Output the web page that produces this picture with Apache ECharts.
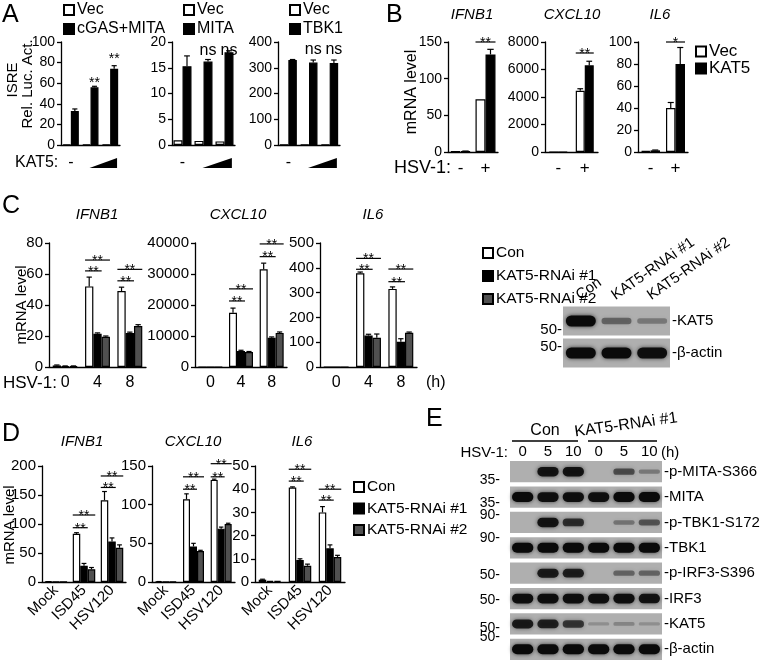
<!DOCTYPE html>
<html>
<head>
<meta charset="utf-8">
<script src="https://cdn.jsdelivr.net/npm/echarts@6/dist/echarts.min.js"></script>
<style>
html, body { margin: 0; padding: 0; background: #fff; }
#main { width: 762px; height: 661px; }
</style>
</head>
<body>
<div id="main"></div>
<script>
// ---- data ----
// A: ISRE reporter
const aCats = ['-', '', ''];
const aVec1 = [0.5, 0.5, 0.5];
const aMix = [33, 56, 74];
const aMixErr = [2, 1, 3];
const aSig1 = ['', '**', '**'];
const aSigY1 = [0, 63, 86.4];
const aVec2 = [0.9, 0.8, 0.7];
const aMita = [15.3, 16.2, 18];
const aMitaErr = [2, 0.4, 0.3];
const aSig2 = ['', 'ns', 'ns'];
const aSigY2 = [0, 18.4, 18.4];
const aVec3 = [1, 1, 1];
const aTbk1 = [330, 320, 318];
const aTbk1Err = [2, 10, 12];
const aSig3 = ['', 'ns', 'ns'];
const aSigY3 = [0, 372, 372];

// B: overexpression, HSV-1
const genes = ['IFNB1', 'CXCL10', 'IL6'];
const bCats = ['-', '+'];
const bVec = [[1, 72], [0, 4450], [1, 40]];
const bVecErr = [[0, 0], [0, 150], [0, 5]];
const bKat5 = [[1, 133], [0, 6300], [1.5, 80]];
const bKat5Err = [[0.3, 7], [0, 300], [0.3, 15]];
const bSig = ['**', '**', '*'];
const bSigY = [150, 7200, 100];

// C: knockdown, HSV-1 time course
const cCats = ['0', '4', '8'];
const cCon = [[1, 52, 49], [0, 17500, 31500], [0, 378, 315]];
const cConErr = [[0.3, 6, 2.5], [0, 1500, 2000], [0, 5, 8]];
const cK1 = [[0.5, 21.5, 22], [0, 5200, 9400], [0, 127, 102]];
const cK1Err = [[0.2, 0.5, 0.5], [0, 200, 300], [0, 5, 12]];
const cK2 = [[0.5, 19.5, 26.5], [0, 4800, 11000], [0, 118, 138]];
const cK2Err = [[0.2, 0.5, 0.8], [0, 200, 300], [0, 15, 3]];
// [group, last bar of bracket, y]
const cBrackets = [
  [[1, 1, 62], [1, 2, 69], [2, 1, 55.6], [2, 2, 63]],
  [[1, 1, 21300], [1, 2, 25200], [2, 1, 35600], [2, 2, 39700]],
  [[1, 1, 394], [1, 2, 438], [2, 1, 344], [2, 2, 395]]
];

// D: knockdown, DNA stimuli
const dCats = ['Mock', 'ISD45', 'HSV120'];
const dCon = [[0.5, 83, 141], [0.5, 107, 132], [1, 40.7, 30]];
const dConErr = [[0.2, 2, 15], [0.1, 7, 1], [0.2, 0.3, 2.5]];
const dK1 = [[0.5, 28, 70], [0.3, 46, 69], [0.5, 9.5, 14.5]];
const dK1Err = [[0, 4, 6], [0, 4, 2], [0, 0.5, 1.5]];
const dK2 = [[0.5, 22, 59], [0.3, 40, 75], [0.5, 7, 10.8]];
const dK2Err = [[0, 3, 5], [0, 1, 1], [0, 0.7, 0.7]];
const dBrackets = [
  [[1, 1, 93.6], [1, 2, 115.5], [2, 1, 163], [2, 2, 182.8]],
  [[1, 1, 120], [1, 2, 136], [2, 1, 136], [2, 2, 153]],
  [[1, 1, 43.5], [1, 2, 48.6], [2, 1, 35.3], [2, 2, 40]]
];

// blots (band signal 0..1)
const cBlotLanes = ['Con', 'KAT5-RNAi #1', 'KAT5-RNAi #2'];
const cBlotRows = ['KAT5', 'β-actin'];
const cBlotSignal = [[1, 0.35, 0.22], [1, 1, 0.95]];

const eLanes = ['0', '5', '10', '0', '5', '10'];
const eRows = ['p-MITA-S366', 'MITA', 'p-TBK1-S172', 'TBK1', 'p-IRF3-S396', 'IRF3', 'KAT5', 'β-actin'];
const eSignal = [
  [0, 0.9, 0.9, 0, 0.5, 0.22],
  [1, 0.95, 0.95, 0.95, 1, 1],
  [0, 0.9, 0.7, 0, 0.25, 0.45],
  [1, 1, 1, 1, 1, 1],
  [0, 0.85, 0.8, 0, 0.35, 0.35],
  [0.95, 0.95, 0.95, 0.95, 0.95, 0.9],
  [0.85, 0.8, 0.65, 0.08, 0.15, 0.08],
  [1, 1, 1, 1, 1, 1]
];

// ---- build ----
const FONT = "'Liberation Sans', Arial, sans-serif";
const grids = [], xAxes = [], yAxes = [], series = [], graphics = [];
const axisLineStyle = { color: '#000', width: 1.3 };

function txt(text, x, y, size, o) {
  o = o || {};
  graphics.push({
    type: 'text', x: x, y: y, rotation: o.rot || 0, silent: true,
    style: {
      text: text, fill: '#000',
      font: (o.style || '') + ' ' + size + 'px ' + FONT,
      textAlign: o.align || 'left', align: o.align || 'left',
      textVerticalAlign: o.va || 'middle', verticalAlign: o.va || 'middle'
    }
  });
}

function barX(api, g, i, n, bw) {
  return api.coord([g, 0])[0] + (i - (n - 1) / 2) * bw;
}

function barPanel(o) {
  const gi = grids.length;
  const n = o.bars.length;
  grids.push({ left: o.left, top: o.top, width: o.width, height: o.height, outerBoundsMode: 'none' });
  xAxes.push({
    type: 'category', gridIndex: gi, data: o.cats,
    axisLine: { lineStyle: axisLineStyle }, axisTick: { show: false },
    axisLabel: { interval: 0, color: '#000', fontSize: o.xfs || o.fs, fontFamily: FONT, margin: o.xMargin, rotate: o.rotate || 0 }
  });
  yAxes.push({
    type: 'value', gridIndex: gi, min: 0, max: o.max, interval: o.step,
    axisLine: { show: true, lineStyle: axisLineStyle },
    axisTick: { show: true, length: 4, lineStyle: axisLineStyle },
    axisLabel: { color: '#000', fontSize: o.fs, fontFamily: FONT, margin: 6, formatter: function (v) { return String(v); } },
    splitLine: { show: false }
  });
  o.bars.forEach(function (b) {
    series.push({
      type: 'bar', name: b.name, xAxisIndex: gi, yAxisIndex: gi, data: b.data,
      barWidth: o.bw, barGap: '0%', silent: true,
      itemStyle: { color: b.color, borderColor: '#000', borderWidth: 1.2 }
    });
  });
  // error bars (upper only)
  const errs = [];
  o.bars.forEach(function (b, i) {
    b.data.forEach(function (v, g) { if (b.err && b.err[g] > 0) errs.push([g, i, v, b.err[g]]); });
  });
  series.push({
    type: 'custom', xAxisIndex: gi, yAxisIndex: gi, data: errs, encode: { x: 0, y: 2 }, z: 3, silent: true,
    renderItem: function (params, api) {
      const g = api.value(0), i = api.value(1), v = api.value(2), e = api.value(3);
      const x = barX(api, g, i, n, o.bw);
      const y0 = api.coord([g, v])[1], y1 = api.coord([g, v + e])[1];
      const cw = o.bw * 0.32;
      return {
        type: 'group', children: [
          { type: 'line', shape: { x1: x, y1: y0, x2: x, y2: y1 }, style: { stroke: '#000', lineWidth: 1.2 } },
          { type: 'line', shape: { x1: x - cw, y1: y1, x2: x + cw, y2: y1 }, style: { stroke: '#000', lineWidth: 1.2 } }
        ]
      };
    }
  });
  // significance text over the stimulated bar, at the given level
  if (o.marks) {
    const md = [], labels = [];
    o.marks.forEach(function (s, g) {
      if (s) { md.push([g, 1, o.markY[g]]); labels.push(s); }
    });
    series.push({
      type: 'custom', xAxisIndex: gi, yAxisIndex: gi, data: md, encode: { x: 0, y: 2 }, z: 4, silent: true,
      renderItem: function (params, api) {
        const s = labels[params.dataIndex];
        const x = barX(api, api.value(0), api.value(1), n, o.bw);
        const y = api.coord([api.value(0), api.value(2)])[1];
        const star = s.charAt(0) === '*';
        return {
          type: 'text', x: x, y: y + (star ? 3 : 0),
          style: { text: s, fill: '#000', font: (star ? 14 : 16) + 'px ' + FONT,
            textAlign: 'center', align: 'center', textVerticalAlign: 'middle', verticalAlign: 'middle' }
        };
      }
    });
  }
  // brackets [group, lastBar, y] from first bar of the group
  if (o.brackets) {
    series.push({
      type: 'custom', xAxisIndex: gi, yAxisIndex: gi, data: o.brackets.map(function (b) { return [b[0], b[1], b[2]]; }),
      encode: { x: 0, y: 2 }, z: 4, silent: true,
      renderItem: function (params, api) {
        const g = api.value(0), last = api.value(1);
        const x0 = barX(api, g, 0, n, o.bw) - o.bw / 2;
        const x1 = barX(api, g, last, n, o.bw) + o.bw / 2;
        const y = api.coord([g, api.value(2)])[1];
        const s = o.bracketLabels ? o.bracketLabels[params.dataIndex] : '**';
        return {
          type: 'group', children: [
            { type: 'line', shape: { x1: x0, y1: y, x2: x1, y2: y }, style: { stroke: '#000', lineWidth: 1.2 } },
            { type: 'text', x: (x0 + x1) / 2, y: y + 8,
              style: { text: s, fill: '#000', font: '14px ' + FONT,
                textAlign: 'center', align: 'center', textVerticalAlign: 'bottom', verticalAlign: 'bottom' } }
          ]
        };
      }
    });
  }
  return gi;
}

function blotPanel(o) {
  const gi = grids.length;
  grids.push({ left: o.left, top: o.top, width: o.width, height: o.height, outerBoundsMode: 'none' });
  xAxes.push({
    type: 'category', gridIndex: gi, data: o.lanes, position: 'top',
    axisLine: { show: false }, axisTick: { show: false },
    axisLabel: { show: o.laneLabels !== false, interval: 0, color: '#000', fontSize: o.fs, fontFamily: FONT, margin: o.xMargin }
  });
  yAxes.push({
    type: 'category', gridIndex: gi, data: o.rows, inverse: true, position: 'right',
    axisLine: { show: false }, axisTick: { show: false }, splitLine: { show: false },
    axisLabel: { interval: 0, color: '#000', fontSize: o.fs, fontFamily: FONT, margin: 2, formatter: '-{value}' }
  });
  const bg = [], bands = [];
  o.signal.forEach(function (row, r) {
    bg.push([0, r]);
    row.forEach(function (v, l) { if (v > 0) bands.push([l, r, v]); });
  });
  series.push({
    type: 'custom', xAxisIndex: gi, yAxisIndex: gi, data: bg, encode: { x: 0, y: 1 }, z: 1, silent: true,
    renderItem: function (params, api) {
      const cs = params.coordSys;
      const c = api.coord([0, api.value(1)]);
      const h = api.size([1, 1])[1] * o.rowFill;
      return { type: 'rect', shape: { x: cs.x, y: c[1] - h / 2, width: cs.width, height: h }, style: { fill: '#afafaf' } };
    }
  });
  series.push({
    type: 'custom', xAxisIndex: gi, yAxisIndex: gi, data: bands, encode: { x: 0, y: 1 }, z: 2, silent: true,
    renderItem: function (params, api) {
      const c = api.coord([api.value(0), api.value(1)]);
      const s = api.size([1, 1]);
      const v = api.value(2);
      const w = s[0] * 0.84, h = Math.min(s[1] * (0.1 + 0.3 * v), o.maxBand);
      return {
        type: 'rect', shape: { x: c[0] - w / 2, y: c[1] - h / 2, width: w, height: h, r: h / 2 },
        style: { fill: 'rgba(10,10,10,' + (0.12 + 0.88 * v) + ')', shadowBlur: 4, shadowColor: 'rgba(0,0,0,' + (0.7 * v) + ')' }
      };
    }
  });
  return gi;
}

// Panel A
const aPanels = [
  { left: 61, width: 59, max: 100, step: 20, bw: 8, name: 'cGAS+MITA', vec: aVec1, val: aMix, err: aMixErr, sig: aSig1, sigY: aSigY1 },
  { left: 172, width: 63, max: 20, step: 5, bw: 9, name: 'MITA', vec: aVec2, val: aMita, err: aMitaErr, sig: aSig2, sigY: aSigY2 },
  { left: 278, width: 62, max: 400, step: 100, bw: 8.5, name: 'TBK1', vec: aVec3, val: aTbk1, err: aTbk1Err, sig: aSig3, sigY: aSigY3 }
];
aPanels.forEach(function (p) {
  barPanel({
    left: p.left, top: 42, width: p.width, height: 103, max: p.max, step: p.step, bw: p.bw,
    cats: aCats, fs: 14, xfs: 16, xMargin: 10, marks: p.sig, markY: p.sigY,
    bars: [
      { name: 'Vec', data: p.vec, color: '#fff' },
      { name: p.name, data: p.val, err: p.err, color: '#000' }
    ]
  });
  const band = p.width / 3;
  const c1 = p.left + 1.5 * band, c2 = p.left + 2.5 * band;
  graphics.push({
    type: 'polygon', silent: true,
    shape: { points: [[c1 - 1, 168], [c2 + 0.35 * band, 168], [c2 + 0.35 * band, 158]] },
    style: { fill: '#000' }
  });
});

// Panel B
const bPanels = [
  { left: 448, width: 50, max: 150, step: 50, bw: 10 },
  { left: 545, width: 53, max: 8000, step: 2000, bw: 9 },
  { left: 638, width: 50, max: 100, step: 20, bw: 9.5 }
];
bPanels.forEach(function (p, k) {
  barPanel({
    left: p.left, top: 42, width: p.width, height: 110, max: p.max, step: p.step, bw: p.bw,
    cats: bCats, fs: 14, xfs: 17, xMargin: 8,
    brackets: [[1, 1, bSigY[k]]], bracketLabels: [bSig[k]],
    bars: [
      { name: 'Vec', data: bVec[k], err: bVecErr[k], color: '#fff' },
      { name: 'KAT5', data: bKat5[k], err: bKat5Err[k], color: '#000' }
    ]
  });
});

// Panel C
const cPanels = [
  { left: 49, width: 97, max: 80, step: 20, bw: 8.3 },
  { left: 195, width: 92, max: 40000, step: 10000, bw: 8 },
  { left: 320, width: 97, max: 500, step: 100, bw: 8.3 }
];
cPanels.forEach(function (p, k) {
  barPanel({
    left: p.left, top: 243, width: p.width, height: 124, max: p.max, step: p.step, bw: p.bw,
    cats: cCats, fs: 15, xfs: 16, xMargin: 8, brackets: cBrackets[k],
    bars: [
      { name: 'Con', data: cCon[k], err: cConErr[k], color: '#fff' },
      { name: 'KAT5-RNAi #1', data: cK1[k], err: cK1Err[k], color: '#000' },
      { name: 'KAT5-RNAi #2', data: cK2[k], err: cK2Err[k], color: '#505050' }
    ]
  });
});

// Panel D
const dPanels = [
  { left: 42, width: 84, max: 200, step: 50, bw: 7.5 },
  { left: 152, width: 83, max: 150, step: 50, bw: 7 },
  { left: 255, width: 90, max: 50, step: 10, bw: 7.5 }
];
dPanels.forEach(function (p, k) {
  barPanel({
    left: p.left, top: 466, width: p.width, height: 116, max: p.max, step: p.step, bw: p.bw,
    cats: dCats, fs: 15, xMargin: 6, rotate: 45, brackets: dBrackets[k],
    bars: [
      { name: 'Con', data: dCon[k], err: dConErr[k], color: '#fff' },
      { name: 'KAT5-RNAi #1', data: dK1[k], err: dK1Err[k], color: '#000' },
      { name: 'KAT5-RNAi #2', data: dK2[k], err: dK2Err[k], color: '#505050' }
    ]
  });
});

// blots
const cBlot = { left: 563, top: 305, width: 107, height: 64 };
blotPanel({ left: cBlot.left, top: cBlot.top, width: cBlot.width, height: cBlot.height,
  lanes: cBlotLanes, rows: cBlotRows, signal: cBlotSignal, laneLabels: false,
  fs: 15, xMargin: 4, rowFill: 0.9, maxBand: 11 });
cBlotLanes.forEach(function (name, i) {
  const cx = cBlot.left + (i + 0.5) * cBlot.width / cBlotLanes.length;
  txt(name, cx + 1, 303, 15, { va: 'bottom', rot: 35 * Math.PI / 180 });
});
blotPanel({ left: 510, top: 459, width: 152, height: 203, lanes: eLanes, rows: eRows, signal: eSignal,
  fs: 15, xMargin: 0, rowFill: 0.84, maxBand: 10 });

// ---- texts ----
txt('A', 2, 15, 25);
txt('B', 386, 15, 25);
txt('C', 2, 206, 25);
txt('D', 2, 434, 25);
txt('E', 426, 419, 25);

txt('ISRE', 13, 80, 15, { align: 'center', rot: Math.PI / 2 });
txt('Rel. Luc. Act.', 28, 84, 15, { align: 'center', rot: Math.PI / 2 });
txt('mRNA level', 412, 92, 16, { align: 'center', rot: Math.PI / 2 });
txt('mRNA level', 22, 305, 15, { align: 'center', rot: Math.PI / 2 });
txt('mRNA level', 10, 525, 15, { align: 'center', rot: Math.PI / 2 });

[[472, 15], [572, 15], [660, 15]].forEach(function (p, k) { txt(genes[k], p[0], p[1], 15, { align: 'center', style: 'italic' }); });
[[97, 215], [238, 215], [373, 215]].forEach(function (p, k) { txt(genes[k], p[0], p[1], 15, { align: 'center', style: 'italic' }); });
[[82, 442], [193, 442], [302, 442]].forEach(function (p, k) { txt(genes[k], p[0], p[1], 15, { align: 'center', style: 'italic' }); });

txt('KAT5:', 15, 163, 16);
txt('HSV-1:', 394, 168, 18);
txt('HSV-1:', 3, 383, 17);
txt('(h)', 426, 383, 16);

// E header
txt('Con', 545, 431, 16, { align: 'center' });
txt('KAT5-RNAi #1', 626, 425, 16, { align: 'center', rot: 8 * Math.PI / 180 });
graphics.push({ type: 'line', silent: true, shape: { x1: 512, y1: 441, x2: 578, y2: 441 }, style: { stroke: '#000', lineWidth: 1.3 } });
graphics.push({ type: 'line', silent: true, shape: { x1: 588, y1: 441, x2: 657, y2: 441 }, style: { stroke: '#000', lineWidth: 1.3 } });
txt('HSV-1:', 508, 453, 15, { align: 'right' });
txt('(h)', 661, 453, 15);

// molecular weight markers
[['35-', 480], ['35-', 503], ['90-', 515], ['90-', 538], ['50-', 575], ['50-', 600], ['50-', 628], ['50-', 637]]
  .forEach(function (m) { txt(m[0], 500, m[1], 14, { align: 'right' }); });
[['50-', 330], ['50-', 347]].forEach(function (m) { txt(m[0], 562, m[1], 15, { align: 'right' }); });

// ---- legends ----
function leg(left, top, names, gap, size) {
  return {
    left: left, top: top, orient: 'vertical', data: names, icon: 'rect',
    itemWidth: 10, itemHeight: 10, itemGap: gap, selectedMode: false, padding: 0,
    textStyle: { color: '#000', fontSize: size || 16, fontFamily: FONT, lineHeight: 15, padding: [0, 0, 0, -2] }
  };
}

const chart = echarts.init(document.getElementById('main'), null, { renderer: 'canvas' });
chart.setOption({
  animation: false,
  backgroundColor: '#fff',
  textStyle: { fontFamily: FONT },
  grid: grids,
  xAxis: xAxes,
  yAxis: yAxes,
  legend: [
    leg(63, 2, ['Vec', 'cGAS+MITA'], 3),
    leg(183, 2, ['Vec', 'MITA'], 3),
    leg(289, 2, ['Vec', 'TBK1'], 3),
    leg(695, 43, ['Vec', 'KAT5'], 0, 17),
    leg(482, 245, ['Con', 'KAT5-RNAi #1', 'KAT5-RNAi #2'], 7, 15.5),
    leg(353, 479, ['Con', 'KAT5-RNAi #1', 'KAT5-RNAi #2'], 5.5, 15.5)
  ],
  series: series,
  graphic: graphics
});
</script>
</body>
</html>
